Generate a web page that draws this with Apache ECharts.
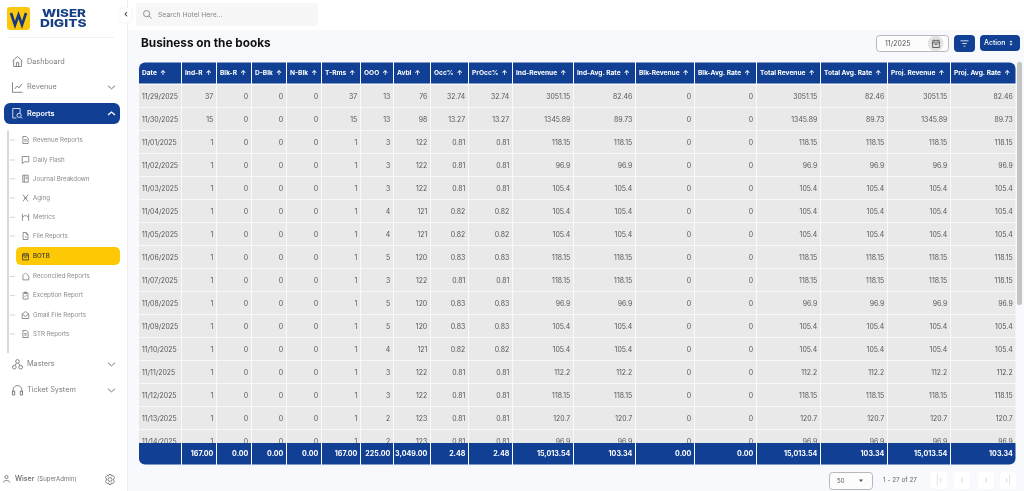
<!DOCTYPE html>
<html><head><meta charset="utf-8">
<style>html,body{margin:0;padding:0;background:#fff;overflow:hidden}#c{width:1024px;height:491px}</style>
<script src="https://cdn.jsdelivr.net/npm/echarts@6/dist/echarts.min.js"></script>
</head><body><div id="c"></div>
<script>
// ---------- table data ----------
const headers = ['Date','Ind-R','Blk-R','D-Blk','N-Blk','T-Rms','OOO','Avbl','Occ%','PrOcc%','Ind-Revenue','Ind-Avg. Rate','Blk-Revenue','Blk-Avg. Rate','Total Revenue','Total Avg. Rate','Proj. Revenue','Proj. Avg. Rate'];
const dates = ['11/29/2025','11/30/2025','11/01/2025','11/02/2025','11/03/2025','11/04/2025','11/05/2025','11/06/2025','11/07/2025','11/08/2025','11/09/2025','11/10/2025','11/11/2025','11/12/2025','11/13/2025','11/14/2025'];
const indR = [37,15,1,1,1,1,1,1,1,1,1,1,1,1,1,1];
const blkR = [0,0,0,0,0,0,0,0,0,0,0,0,0,0,0,0];
const dBlk = [0,0,0,0,0,0,0,0,0,0,0,0,0,0,0,0];
const nBlk = [0,0,0,0,0,0,0,0,0,0,0,0,0,0,0,0];
const tRms = [37,15,1,1,1,1,1,1,1,1,1,1,1,1,1,1];
const ooo = [13,13,3,3,3,4,4,5,3,5,5,4,3,3,2,2];
const avbl = [76,98,122,122,122,121,121,120,122,120,120,121,122,122,123,123];
const occ = [32.74,13.27,0.81,0.81,0.81,0.82,0.82,0.83,0.81,0.83,0.83,0.82,0.81,0.81,0.81,0.81];
const prOcc = [32.74,13.27,0.81,0.81,0.81,0.82,0.82,0.83,0.81,0.83,0.83,0.82,0.81,0.81,0.81,0.81];
const indRevenue = [3051.15,1345.89,118.15,96.9,105.4,105.4,105.4,118.15,118.15,96.9,105.4,105.4,112.2,118.15,120.7,96.9];
const indAvgRate = [82.46,89.73,118.15,96.9,105.4,105.4,105.4,118.15,118.15,96.9,105.4,105.4,112.2,118.15,120.7,96.9];
const blkRevenue = [0,0,0,0,0,0,0,0,0,0,0,0,0,0,0,0];
const blkAvgRate = [0,0,0,0,0,0,0,0,0,0,0,0,0,0,0,0];
const totalRevenue = [3051.15,1345.89,118.15,96.9,105.4,105.4,105.4,118.15,118.15,96.9,105.4,105.4,112.2,118.15,120.7,96.9];
const totalAvgRate = [82.46,89.73,118.15,96.9,105.4,105.4,105.4,118.15,118.15,96.9,105.4,105.4,112.2,118.15,120.7,96.9];
const projRevenue = [3051.15,1345.89,118.15,96.9,105.4,105.4,105.4,118.15,118.15,96.9,105.4,105.4,112.2,118.15,120.7,96.9];
const projAvgRate = [82.46,89.73,118.15,96.9,105.4,105.4,105.4,118.15,118.15,96.9,105.4,105.4,112.2,118.15,120.7,96.9];
const totals = ['','167.00','0.00','0.00','0.00','167.00','225.00','3,049.00','2.48','2.48','15,013.54','103.34','0.00','0.00','15,013.54','103.34','15,013.54','103.34'];
const mainMenu = ['Dashboard','Revenue','Reports','Masters','Ticket System'];
const subMenu = ['Revenue Reports','Daily Flash','Journal Breakdown','Aging','Metrics','File Reports','BOTB','Reconciled Reports','Exception Report','Gmail File Reports','STR Reports'];

// ---------- layout ----------
const columns = [dates,indR,blkR,dBlk,nBlk,tRms,ooo,avbl,occ,prOcc,indRevenue,indAvgRate,blkRevenue,blkAvgRate,totalRevenue,totalAvgRate,projRevenue,projAvgRate];
const colW = [43,35,35,35,35,39,33,37,38,44,61,62,59,62,64,67,63,65.5];
const colX = []; colW.reduce((s,w,i)=>(colX[i]=s,s+w),0);
const tableW = colW.reduce((a,b)=>a+b,0);
const NAVY = '#103f93', UI = 'Inter, "Noto Sans", sans-serif', TX = '#555555';

function cellRect(api, c, r, h){
  const p = api.coord([colX[c], r]);
  const q = api.coord([colX[c]+colW[c], r+1]);
  return {x:p[0], y:Math.min(p[1],q[1]), w:q[0]-p[0], h:Math.abs(q[1]-p[1])};
}
function renderBody(params, api){
  const c = api.value(0), r = api.value(1), b = cellRect(api,c,r);
  const first = c===0;
  return {type:'group',children:[
    {type:'rect',shape:{x:b.x,y:b.y,width:b.w-1,height:b.h-1},style:{fill:'#e9e9e9'}},
    {type:'text',style:{text:String(columns[c][r]),x:first?b.x+3:b.x+b.w-3.8,y:b.y+b.h/2,align:first?'left':'right',verticalAlign:'middle',font:'400 6.9px '+UI,fill:TX}}
  ]};
}
function renderHead(params, api){
  const c = api.value(0), b = cellRect(api,c,0);
  const last = c===headers.length-1;
  return {type:'group',children:[
    {type:'rect',shape:{x:b.x,y:b.y,width:b.w-1,height:b.h-1,r:[c===0?6:0,last?6:0,0,0]},style:{fill:NAVY}},
    {type:'text',style:{text:headers[c]+'  \u2191',x:b.x+3,y:b.y+b.h/2,align:'left',verticalAlign:'middle',font:'700 6.6px '+UI,fill:'#fff'}}
  ]};
}
function renderFoot(params, api){
  const c = api.value(0), b = cellRect(api,c,0);
  const last = c===headers.length-1;
  return {type:'group',children:[
    {type:'rect',shape:{x:b.x,y:b.y,width:b.w-1,height:b.h,r:[0,0,last?6:0,c===0?6:0]},style:{fill:NAVY}},
    {type:'text',style:{text:totals[c],x:b.x+b.w-3.6,y:b.y+b.h/2,align:'right',verticalAlign:'middle',font:'700 7.1px '+UI,fill:'#fff'}}
  ]};
}
const bodyData = [];
columns.forEach((col,c)=>col.forEach((v,r)=>bodyData.push([c,r])));
const oneRow = headers.map((h,c)=>[c,0]);

// ---------- page chrome ----------
const G = [], IC = [];
const rect=(x,y,w,h,fill,r,extra)=>G.push(Object.assign({type:'rect',shape:{x,y,width:w,height:h,r:r||0},style:{fill},silent:true,z:0},extra||{}));
const txt=(t,x,y,size,fill,weight,align,z)=>G.push({type:'text',x,y,style:{text:t,font:(weight||400)+' '+size+'px '+UI,fill,align:align||'left',verticalAlign:'middle'},silent:true,z:z||5});
const line=(pts,col,lw)=>G.push({type:'polyline',shape:{points:pts},style:{stroke:col,lineWidth:lw||0.8,fill:null},silent:true,z:5});
const icon=(d,cx,cy,s,col)=>IC.push({d,cx,cy,s,col});
const ICON={
 home:'M3 11 L12 3 L21 11 M5 10 V21 H19 V10 M10 21 V14 H14 V21',
 chart:'M3 3 V21 H21 M7 15 L11 10 L15 13 L20 6',
 doc:'M5 2 H15 L20 7 V22 H5 Z M9 11 H16 M9 15 H16',
 search:'M4 3 H18 V12 M4 3 V21 H11 M16 16 m-4 0 a4 4 0 1 0 8 0 a4 4 0 1 0 -8 0 M19 19 L22 22',
 flash:'M4 4 H20 V17 H9 L4 21 Z',
 book:'M5 3 H19 V21 H5 Z M9 3 V21 M12 8 H17 M12 12 H17',
 aging:'M5 3 L19 21 M19 3 L5 21 M8 12 H16',
 metric:'M4 3 V21 M20 3 V21 M4 12 L9 8 L15 8 L20 12',
 file:'M5 2 H14 L19 7 V22 H5 Z M14 2 V7 H19 M10 15 H15',
 cal:'M4 5 H20 V21 H4 Z M4 10 H20 M8 2 V6 M16 2 V6 M9 14 H15',
 rec:'M12 3 L20 11 V21 H5 V11 M3 11 L10 4',
 exc:'M5 4 H19 V22 H5 Z M9 2 H15 V6 H9 Z M9 13 L11 15 L15 10',
 mail:'M4 10 L12 4 L20 10 V21 H4 Z M4 10 L12 16 L20 10',
 net:'M12 3 a3.5 3.5 0 1 0 0.01 0 M6 14 a3.5 3.5 0 1 0 0.01 0 M18 14 a3.5 3.5 0 1 0 0.01 0 M10 10 L7.5 14 M14 10 L16.5 14',
 head:'M4 15 V11 a8 8 0 0 1 16 0 V15 M3 13 H7 V20 H3 Z M17 13 H21 V20 H17 Z',
 user:'M12 3 a4 4 0 1 0 0.01 0 M4 21 C4 14 20 14 20 21',
 gear:'M12 8 a4 4 0 1 0 0.01 0 M10 2 H14 L15 5 L18 4 L21 8 L19 11 V13 L21 16 L18 20 L15 19 L14 22 H10 L9 19 L6 20 L3 16 L5 13 V11 L3 8 L6 4 L9 5 Z',
 glass:'M10 3 a7 7 0 1 0 0.01 0 M15 15 L21 21',
 filter:'M3 6 H21 M7 12 H17 M10 18 H14',
};
// backgrounds
rect(128,30,896,461,'#f8f9fc');
rect(127,0,1,491,'#eeeeee');
// logo
rect(7,7,23,23,'#fbc70f',3);
G.push({type:'polyline',shape:{points:[[11,13],[15,25],[18.5,15],[22,25],[26,13]]},style:{stroke:'#173a7d',lineWidth:2.6,fill:null},silent:true,z:5});
G.push({type:'text',x:42,y:13.3,scaleX:1.22,style:{text:'WISER',font:'800 11px '+UI,fill:'#173f86',verticalAlign:'middle'},silent:true,z:5});
G.push({type:'text',x:40,y:23.8,scaleX:1.25,style:{text:'DIGITS',font:'800 11px '+UI,fill:'#173f86',verticalAlign:'middle'},silent:true,z:5});
rect(8,37,106,1,'#f0f0f0');
rect(120,8,12,15,'#ffffff',2,{style:{fill:'#fff',stroke:'#eeeeee',lineWidth:0.6},z:1});
txt('\u2039',126,14.5,9,'#555',700,'center');
// main menu
const mainY=[61.5,87.3,113.5,364.3,390.3], mainIcon=['home','chart','search','net','head'];
rect(4,103,116,21,NAVY,6);
mainMenu.forEach((m,i)=>{
  const sel=i===2, col=sel?'#fff':'#808080';
  icon(ICON[mainIcon[i]],17.5,mainY[i],10,sel?'#fff':'#6a6a6a');
  txt(m,27,mainY[i],7.3,col,sel?600:400);
  if(i>0){const y=mainY[i],d=sel?-1.5:1.5;line([[108,y-d],[111.5,y+d],[115,y-d]],sel?'#fff':'#666',sel?1.3:0.9);}
});
// sub menu
const subY=[140,160,178.7,198,217.3,236,256.4,276.4,295.6,315,334], subIcon=['doc','flash','book','aging','metric','file','cal','rec','exc','mail','doc'];
rect(7,131,2,222,'#d8d8d8');
rect(16,247,104,18,'#fdc904',5);
subMenu.forEach((m,i)=>{
  const sel=i===6;
  if(!sel) line([[10,subY[i]],[15,subY[i]]],'#c8c8c8',0.8);
  icon(ICON[subIcon[i]],25.5,subY[i],7,sel?'#333':'#777');
  txt(m,33,subY[i],6.2,sel?'#333':'#8a8a8a',sel?500:400);
});
// sidebar footer
icon(ICON.user,6.5,479,7,'#666');
txt('Wiser',15,479.3,7,'#666',500);
txt('(SuperAdmin)',37,479.3,6.1,'#777');
icon(ICON.gear,110,479.5,10,'#666');
// search box
rect(136,3,182,23,'#f7f7f7',2);
icon(ICON.glass,147.5,14.5,8,'#777');
txt('Search Hotel Here...',158,14.5,6.8,'#888');
// title
txt('Business on the books',141,43,11.8,'#111',700);
// date picker
rect(876.5,35.5,72,16,'#fcfcfd',3,{style:{fill:'#fcfcfd',stroke:'#a8a8a8',lineWidth:0.8}});
G.push({type:'circle',shape:{cx:935.5,cy:43.5,r:7.8},style:{fill:'#e2e2e2'},silent:true,z:1});
txt('11/2025',885,43.5,7,'#555');
icon(ICON.cal,936,43.5,8,'#444');
// buttons
rect(954,35,21,17,NAVY,4);
icon(ICON.filter,964.5,43.5,8,'#fff');
rect(980,35,40,16,NAVY,4);
txt('Action',984,42.8,7,'#fff',500);
G.push({type:'polygon',shape:{points:[[1009.5,42.2],[1012.5,42.2],[1011,40.5]]},style:{fill:'#fff'},silent:true,z:5});
G.push({type:'polygon',shape:{points:[[1009.5,43.8],[1012.5,43.8],[1011,45.5]]},style:{fill:'#fff'},silent:true,z:5});
// scrollbar
rect(1017,62,5,243,'#c4c4c4',2);
// pager
rect(829.5,472.5,43,17,'#fcfcfd',3,{style:{fill:'#fcfcfd',stroke:'#a8a8a8',lineWidth:0.8}});
txt('50',837,481,6,'#555');
G.push({type:'polygon',shape:{points:[[859,479.5],[863,479.5],[861,482]]},style:{fill:'#555'},silent:true,z:5});
txt('1 - 27 of 27',883,480.5,6.4,'#666');
[[939,'|\u2039'],[962,'\u2039'],[986,'\u203a'],[1008,'\u203a|']].forEach(p=>{
  rect(p[0]-8,472,16,17,'#ffffff',3);
  txt(p[1],p[0],480.5,9,'#d8d8d8',400,'center');
});

const xAxis=(i)=>({type:'value',gridIndex:i,min:0,max:tableW,show:false});
const yAxis=(i,max)=>({type:'value',gridIndex:i,min:0,max,inverse:true,show:false});
const bodyTop=85, footTop=443;
const option={
  animation:false,
  backgroundColor:'transparent',
  graphic:{elements:G},
  grid:[
    {left:139,top:62.5,width:tableW,height:22},
    {left:139,top:bodyTop,width:tableW,height:footTop-bodyTop},
    {left:139,top:footTop,width:tableW,height:21.5}
  ],
  xAxis:[xAxis(0),xAxis(1),xAxis(2)],
  yAxis:[yAxis(0,1),yAxis(1,(footTop-bodyTop)/23),yAxis(2,1)],
  series:[
    {type:'custom',name:'Header',xAxisIndex:0,yAxisIndex:0,data:oneRow,renderItem:renderHead,encode:{x:0,y:1},silent:true},
    {type:'custom',name:'Rows',xAxisIndex:1,yAxisIndex:1,data:bodyData,renderItem:renderBody,encode:{x:0,y:1},clip:true,silent:true},
    {type:'custom',name:'Totals',xAxisIndex:2,yAxisIndex:2,data:oneRow,renderItem:renderFoot,encode:{x:0,y:1},silent:true},
    {type:'custom',name:'Icons',coordinateSystem:'none',z:6,silent:true,data:IC.map((v,i)=>[i]),renderItem:(p,api)=>{
      const k=IC[api.value(0)];
      return {type:'path',shape:{pathData:k.d,x:k.cx-k.s/2,y:k.cy-k.s/2,width:k.s,height:k.s,layout:'center'},style:{fill:null,stroke:k.col,lineWidth:0.8}};
    }}
  ]
};
echarts.init(document.getElementById('c'),null,{renderer:'canvas'}).setOption(option);
</script></body></html>
